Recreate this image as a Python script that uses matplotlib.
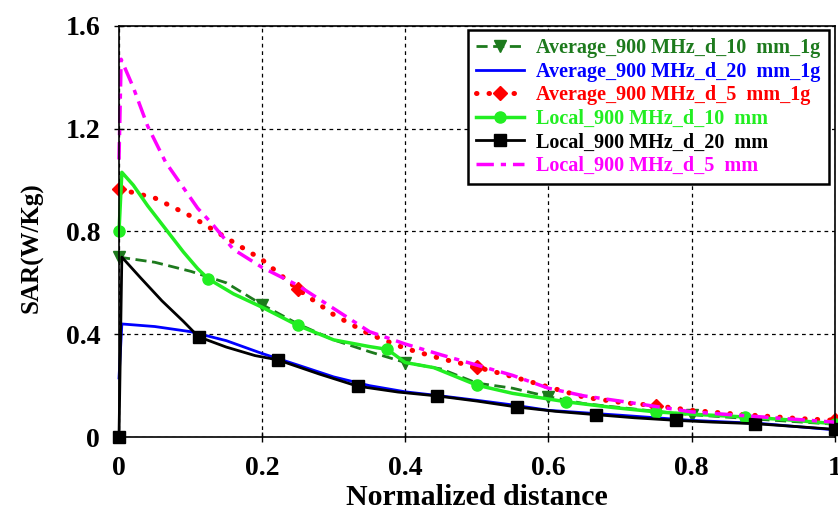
import numpy as np
import matplotlib.pyplot as plt

plt.rcParams['font.family'] = ['Liberation Serif', 'DejaVu Serif']
plt.rcParams['font.weight'] = 'bold'

# Average_900 MHz_d_10 mm_1g
avg10_x = [0, 0.05, 0.1, 0.15, 0.2, 0.25, 0.3, 0.35, 0.4, 0.45, 0.5, 0.55, 0.6, 0.65, 0.7, 0.75, 0.8, 0.9, 1]
avg10_y = [0.70, 0.68, 0.645, 0.60, 0.515, 0.44, 0.378, 0.332, 0.29, 0.265, 0.21, 0.19, 0.157, 0.13, 0.115, 0.10, 0.087, 0.068, 0.05]

# Average_900 MHz_d_20 mm_1g
avg20_x = [0, 0.004, 0.05, 0.1, 0.15, 0.2, 0.25, 0.3, 0.35, 0.4, 0.45, 0.5, 0.55, 0.6, 0.7, 0.8, 0.9, 1]
avg20_y = [0.23, 0.44, 0.43, 0.41, 0.375, 0.325, 0.28, 0.234, 0.20, 0.176, 0.16, 0.143, 0.125, 0.104, 0.085, 0.065, 0.052, 0.028]

# Average_900 MHz_d_5 mm_1g
avg5_x = [0, 0.05, 0.1, 0.15, 0.2, 0.25, 0.3, 0.35, 0.4, 0.45, 0.5, 0.55, 0.6, 0.65, 0.7, 0.75, 0.8, 0.85, 0.9, 0.95, 1]
avg5_y = [0.965, 0.93, 0.86, 0.775, 0.69, 0.575, 0.476, 0.40, 0.345, 0.305, 0.272, 0.235, 0.195, 0.155, 0.135, 0.122, 0.104, 0.092, 0.082, 0.072, 0.065]

# Local_900 MHz_d_10 mm
loc10_x = [0, 0.004, 0.02, 0.04, 0.065, 0.09, 0.11, 0.125, 0.16, 0.2, 0.25, 0.3, 0.35, 0.375, 0.4, 0.44, 0.5, 0.55, 0.625, 0.69, 0.75, 0.8, 0.875, 0.93, 1]
loc10_y = [0.80, 1.03, 0.98, 0.90, 0.81, 0.72, 0.655, 0.615, 0.557, 0.505, 0.434, 0.378, 0.352, 0.341, 0.29, 0.27, 0.202, 0.17, 0.137, 0.115, 0.098, 0.089, 0.078, 0.068, 0.052]

# Local_900 MHz_d_20 mm
loc20_x = [0, 0.004, 0.03, 0.06, 0.09, 1/9, 0.15, 0.19, 2/9, 0.28, 1/3, 0.39, 4/9, 0.5, 5/9, 0.61, 2/3, 0.72, 7/9, 0.83, 8/9, 0.94, 1]
loc20_y = [0, 0.70, 0.62, 0.53, 0.45, 0.39, 0.35, 0.317, 0.30, 0.245, 0.198, 0.175, 0.16, 0.14, 0.117, 0.10, 0.087, 0.075, 0.065, 0.058, 0.052, 0.042, 0.03]

# Local_900 MHz_d_5 mm
loc5_x = [0, 0.003, 0.02, 0.04, 0.065, 0.09, 0.11, 0.13, 0.16, 0.2, 0.25, 0.3, 0.35, 0.4, 0.45, 0.5, 0.55, 0.6, 0.65, 0.7, 0.8, 0.9, 1]
loc5_y = [1.08, 1.47, 1.36, 1.21, 1.07, 0.97, 0.89, 0.83, 0.73, 0.66, 0.59, 0.50, 0.41, 0.362, 0.32, 0.28, 0.24, 0.19, 0.16, 0.14, 0.098, 0.078, 0.058]

x_ticks = [0, 0.2, 0.4, 0.6, 0.8, 1]
x_labels = ['0', '0.2', '0.4', '0.6', '0.8', '1']
y_ticks = [0, 0.4, 0.8, 1.2, 1.6]
y_labels = ['0', '0.4', '0.8', '1.2', '1.6']


def marks(xs, n):
    # indices of points that sit on the k/n marker grid
    return [i for i, v in enumerate(xs) if abs(v * n - round(v * n)) < 1e-6]


fig = plt.figure(figsize=(8.38, 5.16), dpi=100)
ax = fig.add_axes([0.142, 0.153, 0.854, 0.797])

dkgreen = '#1d7a1d'
lime = '#22ee22'

ax.plot(avg10_x, avg10_y, color=dkgreen, ls=(0, (4, 2)), lw=2, marker='v', ms=9,
        markevery=marks(avg10_x, 5), label='Average_900 MHz_d_10  mm_1g', clip_on=False)
ax.plot(avg20_x, avg20_y, color='#0000ff', ls='-', lw=2,
        label='Average_900 MHz_d_20  mm_1g', clip_on=False)
ax.plot(avg5_x, avg5_y, color='#ff0000', ls=(0, (0.1, 2.4)), lw=3.6, dash_capstyle='round',
        marker='D', ms=7, markevery=marks(avg5_x, 4), label='Average_900 MHz_d_5  mm_1g', clip_on=False)
ax.plot(loc10_x, loc10_y, color=lime, ls='-', lw=2.5, marker='o', ms=8,
        markevery=marks(loc10_x, 8), label='Local_900 MHz_d_10  mm', clip_on=False)
ax.plot(loc20_x, loc20_y, color='black', ls='-', lw=2, marker='s', ms=8,
        markevery=marks(loc20_x, 9), label='Local_900 MHz_d_20  mm', clip_on=False)
ax.plot(loc5_x, loc5_y, color='#ff00ff', ls=(0, (5, 2, 1.5, 2)), lw=2.5,
        label='Local_900 MHz_d_5  mm', clip_on=False)

ax.set_xlim(0, 1)
ax.set_ylim(0, 1.6)
ax.set_xticks(x_ticks)
ax.set_xticklabels(x_labels)
ax.set_yticks(y_ticks)
ax.set_yticklabels(y_labels)
ax.tick_params(labelsize=20, length=7, width=1, direction='inout', pad=10)
for lab in ax.get_xticklabels() + ax.get_yticklabels():
    lab.set_fontweight('bold')

ax.grid(True, color='black', ls=(0, (3, 3)), lw=0.9)
for s in ax.spines.values():
    s.set_linewidth(1.2)
    s.set_color('black')

ax.set_xlabel('Normalized distance', fontsize=21.5, fontweight='bold')
ax.set_ylabel('SAR(W/Kg)', fontsize=18, fontweight='bold')
ax.xaxis.set_label_coords(0.5, -0.113)
ax.yaxis.set_label_coords(-0.106, 0.46)

leg = ax.legend(loc='upper right', bbox_to_anchor=(0.9916, 0.99), fontsize=14.5, frameon=True,
                fancybox=False, edgecolor='black', framealpha=1, handlelength=2.4,
                handletextpad=0.6, labelspacing=0.18, borderpad=0.4, borderaxespad=0)
leg.get_frame().set_linewidth(1.8)
for t, l in zip(leg.get_texts(), leg.get_lines()):
    t.set_color(l.get_color())
    t.set_fontweight('bold')

fig.savefig('out.png', dpi=100)
